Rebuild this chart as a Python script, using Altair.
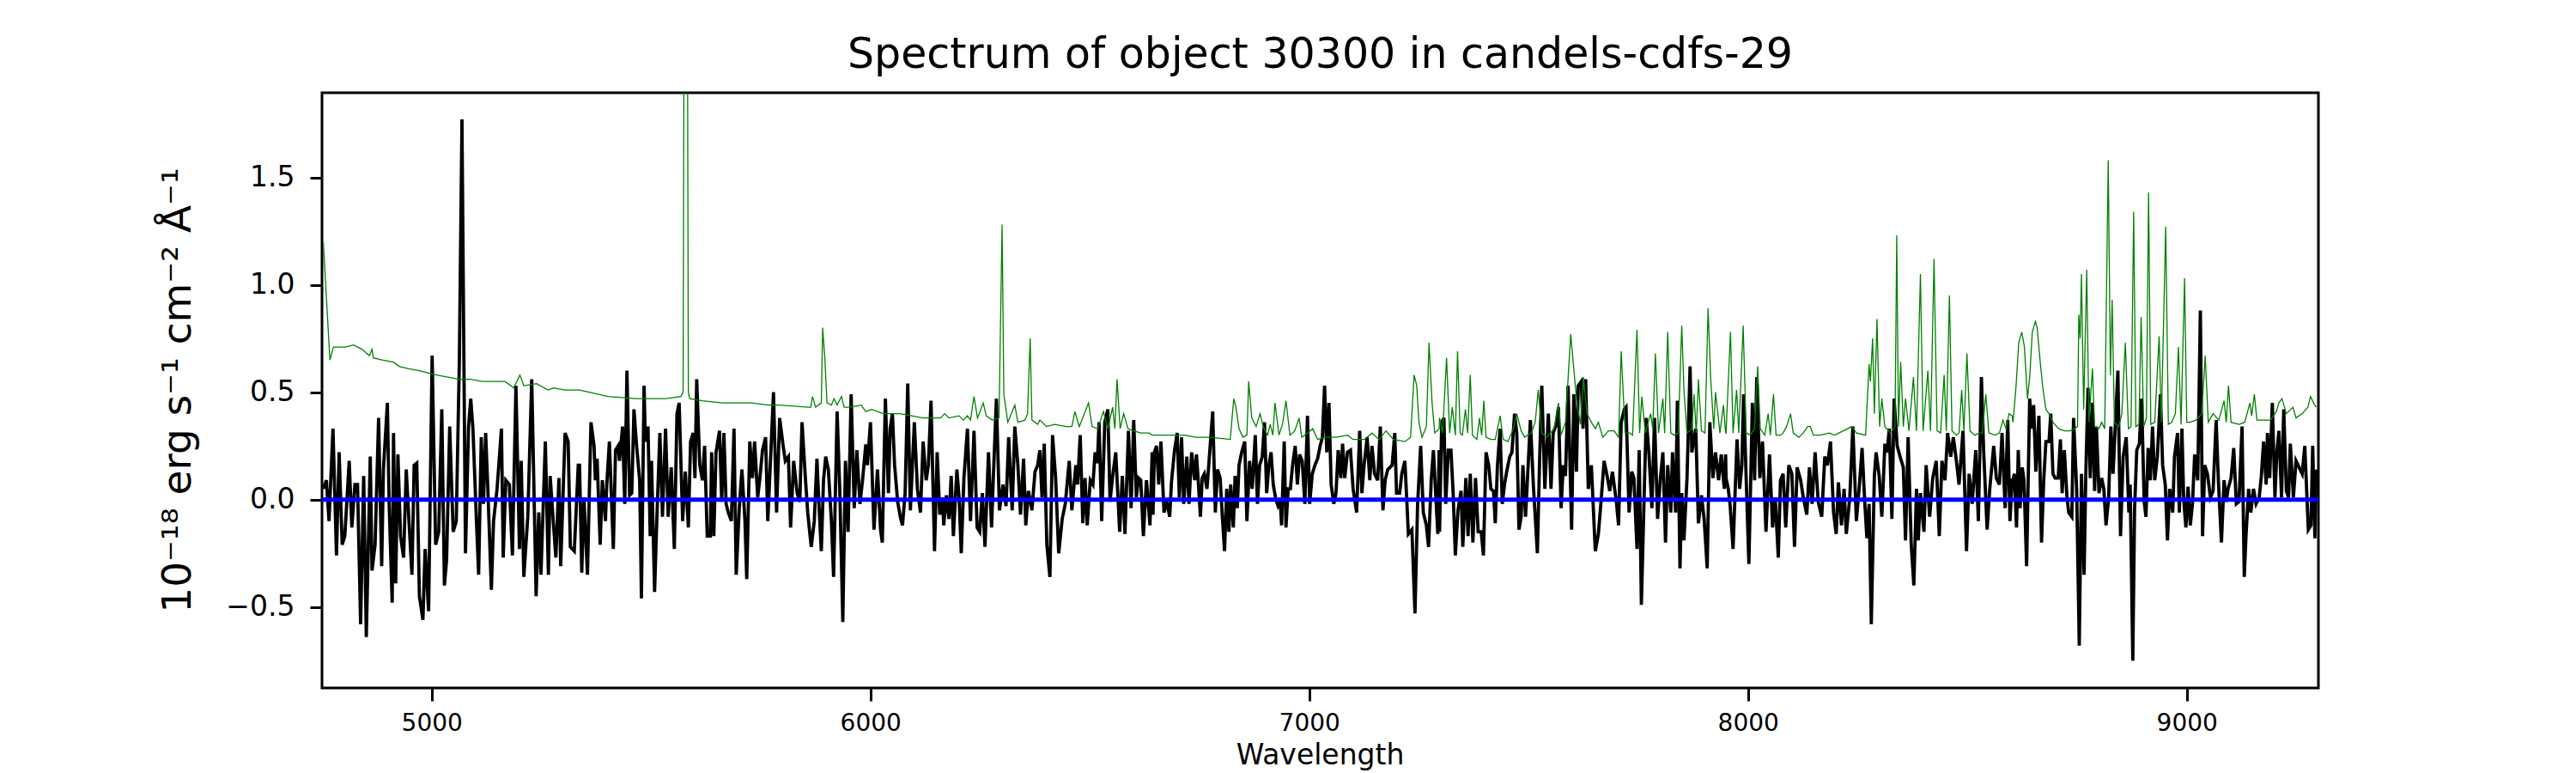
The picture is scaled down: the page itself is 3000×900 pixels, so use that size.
import altair as alt
import pandas as pd

# ---- observed flux (black) ----
flux_wave = [
    4753,4760,4766,4775,4783,4789,4796,4802,4812,4818,4825,4831,4838,4845,4851,4860,4864,4871,4879,4886,
    4890,4899,4903,4910,4913,4918,4923,4929,4936,4942,4949,4955,4960,4966,4972,4980,4985,4993,5001,5009,
    5016,5023,5029,5034,5041,5049,5056,5063,5069,5077,5084,5089,5094,5102,5107,5113,5118,5123,5128,5136,
    5141,5149,5159,5163,5169,5177,5184,5192,5200,5204,5210,5219,5228,5238,5244,5249,5259,5266,5270,5277,
    5283,5290,5294,5304,5311,5316,5325,5334,
    5337,5342,5347,5355,5363,5370,5373,5377,5384,5389,5396,5399,5405,5410,5414,5419,5425,5428,5435,5440,
    5445,5451,5456,5461,5467,5474,5478,5484,5487,5493,5498,5501,5508,5513,5520,5526,5533,5539,5546,5553,
    5559,5564,5572,5578,5585,5590,5596,5600,5604,5611,5617,5622,5628,5635,5638,5643,5648,5656,5661,5666,
    5671,5676,5683,5689,5694,5701,5707,5714,5718,5725,5731,5736,5743,5748,5754,5761,5766,5773,5779,5786,
    5793,5801,5806,5813,5818,5825,5833,5839,5844,5852,5857,5865,5872,5878,5883,5888,5893,5898,5904,5911,
    5916,5924,5930,5937,5943,5949,5956,5963,5969,5976,5982,5989,
    5990,5993,6000,6008,6016,6023,6027,6034,6041,6045,6050,6055,6062,6068,6073,6079,6085,6091,6100,6107,
    6114,6120,6127,6132,6138,6146,6152,6158,6164,6167,6173,6179,6184,6189,6197,6202,6207,6213,6221,6228,
    6236,6243,6249,6255,6261,6269,6276,6280,6287,6294,6302,6309,6315,6323,6329,6336,6342,6349,6354,6360,
    6368,6375,6381,6386,6391,6396,6402,6409,6415,6422,6429,6437,6444,6453,6459,6468,6472,6478,6484,6489,
    6494,6501,6507,6512,6517,6521,6527,6534,6541,6546,6552,6559,6568,6574,6580,6588,6594,6600,6606,6611,
    6616,6622,6629,6637,6642,
    6644,6647,6652,6657,6662,6669,6675,6682,6686,6693,6699,6704,6709,6714,6721,6726,6732,6739,6743,6747,
    6752,6756,6761,6767,6771,6780,6786,6791,6797,6802,6807,6812,6817,6821,6827,6831,6836,6840,6846,6853,
    6858,6864,6870,6877,6882,6887,6893,6898,6903,6908,6913,6918,6924,6929,6934,6937,6943,6947,6952,6957,
    6962,6968,6973,6978,6984,6990,6996,7001,7007,7013,7019,7025,7030,7035,7040,7045,7050,7056,7061,7066,
    7072,7076,7081,7087,7094,7100,7108,7115,7120,7125,7132,7138,7143,7149,7156,7162,7168,7173,7179,7184,
    7189,7195,7199,7206,7211,7218,7226,7234,7241,7247,7254,7260,7267,7272,7278,7283,7293,7296,
    7297,7302,7307,7311,7317,7323,7328,7333,7339,7346,7350,7357,7362,7367,7373,7379,7385,7392,7397,7403,
    7409,7414,7420,7424,7429,7435,7440,7445,7450,7457,7462,7468,7473,7478,7483,7487,7493,7499,7504,7511,
    7520,7525,7530,7537,7545,7551,7556,7563,7568,7574,7579,7584,7590,7598,7603,7609,7613,7620,7624,7630,
    7636,7643,7652,7659,7665,7672,7678,7685,7691,7700,7705,7711,7718,7722,7729,7735,7740,7747,7752,7757,
    7763,7768,7774,7781,7787,7794,7800,7806,7812,7817,7824,7828,7835,7839,7845,7849,7854,7861,7868,7872,
    7881,7887,7894,7900,7907,7913,7920,7926,7933,7939,7946,7949,
    7950,7955,7959,7966,7975,7981,7986,7990,7996,8002,8010,8015,8020,8027,8033,8041,8049,8056,8062,8069,
    8074,8080,8086,8093,8100,8106,8112,8120,8126,8134,8140,8146,8153,8160,8168,8175,8181,8188,8195,8201,
    8206,8213,8219,8224,8232,8239,8247,8254,8260,8266,8271,8276,8281,8288,8292,8299,8305,8312,8317,8322,
    8328,8333,8340,8348,8354,8359,8365,8372,8378,8384,8388,8393,8401,8406,8414,8421,8429,8436,8442,8449,
    8455,8462,8468,8475,8481,8490,8498,8504,8511,8519,8525,8532,8537,8545,8551,8560,8566,8573,8579,8586,
    8592,8597,8602,
    8604,8607,8612,8616,8620,8625,8629,8635,8642,8646,8651,8656,8663,8669,8674,8679,8686,8690,8695,8700,
    8707,8712,8716,8721,8727,8731,8738,8742,8749,8755,8760,8766,8770,8775,8780,8785,8790,8794,8800,8806,
    8811,8816,8822,8827,8832,8837,8843,8849,8855,8862,8868,8871,8877,8881,8886,8892,8897,8903,8907,8912,
    8917,8922,8927,8933,8940,8945,8951,8956,8961,8968,8972,8979,8983,8989,8993,8998,9003,9008,9013,9018,
    9025,9031,9036,9041,9047,9054,9060,9067,9072,9079,9085,9090,9094,9101,9107,9113,9119,9126,9131,9135,
    9141,9146,9152,9158,9165,9170,9175,9181,9184,9189,9195,9201,9205,9210,9216,9221,9227,9232,9236,9243,
    9249,9256,9263,9269,9277,9283,9287,9292,9295,
]
flux_value = [
    0.05,0.09,-0.10,0.33,-0.26,0.22,-0.21,-0.17,0.18,-0.13,0.07,0.07,-0.58,0.11,-0.64,0.20,-0.33,-0.21,0.38,-0.31,
    0.14,0.45,-0.02,-0.48,0.31,-0.39,0.21,-0.17,-0.27,0.14,-0.13,-0.35,0.16,0.17,-0.45,-0.56,-0.23,-0.52,0.67,-0.21,
    -0.15,0.42,-0.40,-0.28,0.34,-0.15,-0.10,0.64,1.77,-0.25,0.34,0.47,0.33,-0.10,-0.35,0.29,-0.02,0.31,0.05,-0.42,
    -0.10,0.05,0.33,-0.27,0.09,0.07,-0.26,0.53,-0.23,0.18,-0.36,-0.08,0.56,-0.45,-0.06,-0.35,0.27,-0.35,0.11,-0.10,
    -0.27,0.10,-0.31,0.31,0.27,-0.22,-0.24,0.16,
    0.16,-0.34,0.01,-0.35,0.36,0.25,0.09,0.19,-0.21,0.09,-0.10,0.07,0.27,-0.01,-0.23,0.23,0.25,0.18,0.34,-0.02,
    0.60,0.02,0.03,0.42,0.25,0.09,-0.46,0.53,0.27,0.34,-0.17,0.18,-0.43,-0.10,0.31,-0.08,0.33,-0.08,0.15,-0.23,
    0.40,0.45,-0.10,0.13,-0.13,0.27,0.31,0.10,0.56,0.16,0.09,0.25,-0.17,-0.17,0.22,-0.17,0.22,0.32,-0.01,0.31,
    -0.02,-0.06,-0.10,0.33,-0.35,-0.04,0.14,-0.10,-0.37,0.27,0.10,0.27,0.01,0.10,0.23,0.29,-0.10,0.22,0.50,-0.06,
    0.38,0.25,0.18,0.20,-0.13,0.18,0.03,-0.01,0.36,0.09,-0.06,-0.22,-0.10,0.19,-0.04,-0.24,0.09,0.20,0.14,-0.10,
    -0.36,0.41,0.05,-0.57,0.18,-0.15,0.49,-0.04,0.23,-0.02,0.09,0.25,
    0.25,0.16,0.36,-0.14,0.14,-0.14,-0.20,0.47,0.03,0.33,0.40,0.16,-0.01,-0.08,-0.12,0.03,0.54,-0.05,0.36,0.05,
    -0.06,0.27,0.09,0.16,0.46,-0.24,0.22,-0.07,0.01,-0.12,0.02,-0.09,0.11,-0.17,0.14,0.01,-0.25,0.10,0.33,-0.10,
    0.32,-0.13,-0.15,0.03,-0.22,0.22,-0.13,0.10,0.47,-0.05,0.07,-0.03,0.29,-0.05,0.34,0.16,-0.07,0.19,-0.12,0.04,
    -0.05,0.13,0.16,0.23,0.01,0.26,-0.21,-0.36,0.30,0.10,-0.25,-0.09,-0.02,0.18,-0.05,0.16,0.07,0.30,-0.11,0.10,
    -0.12,0.09,0.07,0.22,0.17,0.36,-0.10,0.36,0.42,-0.01,0.11,0.22,-0.15,0.11,-0.16,0.32,-0.04,0.37,0.01,0.10,
    0.09,-0.17,0.09,-0.12,0.22,
    -0.07,0.22,0.25,0.07,0.27,-0.06,-0.01,-0.08,0.08,0.23,0.31,0.01,0.29,-0.02,0.20,-0.02,0.22,0.09,0.21,0.09,
    -0.08,0.10,0.12,0.05,0.16,0.41,-0.06,0.14,0.10,-0.08,-0.24,0.05,-0.15,0.07,-0.13,0.11,-0.04,0.16,0.22,0.27,
    -0.10,0.18,0.05,0.30,-0.02,0.16,0.20,0.36,0.03,0.16,0.22,0.07,0.00,-0.03,-0.01,-0.12,0.27,-0.13,0.05,0.05,
    0.16,0.25,0.07,0.21,0.18,-0.02,0.39,-0.02,0.12,0.16,0.19,0.25,0.29,0.53,0.22,0.45,0.07,-0.02,0.03,0.23,
    0.10,0.26,0.10,0.22,0.23,0.05,-0.06,0.32,0.03,0.16,0.29,0.09,0.25,0.12,0.09,0.34,-0.05,0.09,0.14,0.15,
    0.16,0.31,0.03,0.03,0.12,0.18,-0.16,-0.14,-0.53,-0.02,0.25,-0.06,-0.12,-0.22,0.09,0.23,-0.16,0.23,
    -0.15,0.36,0.38,-0.02,0.23,0.23,0.03,-0.26,-0.05,0.04,-0.22,0.10,-0.17,0.12,-0.20,0.10,-0.15,-0.15,-0.26,0.22,
    0.16,0.05,0.04,-0.11,0.16,0.33,-0.02,0.07,0.13,0.20,0.22,0.40,0.31,-0.14,-0.08,0.16,-0.08,0.16,0.37,0.06,
    -0.25,0.18,0.53,0.05,0.40,0.05,0.31,0.35,0.43,-0.04,0.16,0.11,0.53,-0.14,0.49,0.13,0.53,0.55,0.33,0.56,
    0.05,0.16,-0.24,-0.16,-0.01,0.18,0.12,0.04,0.13,-0.01,-0.12,0.36,0.42,0.43,-0.06,0.13,0.10,-0.23,0.23,-0.49,
    -0.01,0.38,0.22,-0.04,0.38,-0.09,0.09,0.22,-0.20,0.16,-0.06,0.22,-0.06,0.46,-0.32,0.03,-0.19,0.10,0.62,0.22,
    0.33,-0.11,0.02,-0.09,-0.32,0.36,0.10,0.22,0.09,0.21,0.05,0.21,
    0.10,0.05,-0.02,-0.23,0.28,0.05,0.16,0.49,0.09,-0.30,0.45,0.09,0.57,0.10,0.27,-0.15,0.21,-0.13,0.01,-0.27,
    0.09,0.12,-0.13,0.16,0.12,-0.22,0.15,0.09,0.01,-0.07,0.15,-0.02,0.22,-0.01,-0.08,0.20,0.16,0.27,-0.06,-0.16,
    0.08,-0.12,0.05,-0.16,0.01,0.34,-0.10,0.07,0.24,-0.01,-0.18,-0.02,-0.58,0.11,0.22,0.11,-0.08,0.26,0.22,0.33,
    -0.09,0.47,0.25,0.19,0.15,-0.19,0.29,-0.21,-0.40,0.05,-0.19,0.03,-0.15,0.16,-0.08,0.10,0.18,-0.17,0.18,0.09,
    0.31,0.20,0.29,0.18,0.07,0.32,-0.24,0.12,-0.02,0.23,-0.10,0.57,0.23,-0.14,0.05,0.25,0.10,0.07,0.31,-0.04,
    0.37,-0.10,0.09,
    0.09,0.12,-0.13,0.23,-0.04,0.15,0.09,-0.31,0.47,0.33,0.44,0.13,0.39,-0.20,0.09,0.27,0.27,0.40,0.12,0.10,
    0.10,0.28,0.03,0.23,0.01,-0.06,-0.08,0.38,0.05,-0.68,0.12,-0.35,0.13,0.52,0.10,0.45,0.04,0.34,0.03,0.10,
    0.05,-0.12,0.01,0.34,0.12,0.34,0.60,-0.17,0.20,0.29,-0.06,0.07,-0.75,-0.05,0.23,0.26,0.47,-0.01,-0.08,0.24,
    0.09,0.34,0.09,0.20,0.49,0.16,0.07,-0.19,0.05,-0.06,0.20,0.31,-0.06,0.33,0.00,-0.13,0.06,-0.12,-0.02,0.21,
    0.09,0.88,-0.17,0.16,0.12,0.01,0.04,0.37,0.09,-0.20,0.09,-0.01,0.05,0.10,0.24,-0.02,-0.01,0.34,-0.36,-0.17,
    0.05,-0.06,0.05,-0.02,0.01,0.11,0.27,0.07,0.31,0.10,0.45,0.01,0.21,0.32,0.01,0.42,0.04,0.01,0.26,0.01,
    0.18,0.15,0.12,0.25,-0.14,-0.12,0.25,-0.18,0.14,
]

# ---- noise / error spectrum (green) ----
err_wave = [
    4753,4768,4776,4802,4822,4841,4858,4864,4867,4887,4913,4926,4946,4972,4991,5011,5037,5063,5089,5115,
    5141,5167,5187,5201,5210,5239,5265,5278,5304,5334,
    5337,5402,5467,5533,5568,5573,5576,5582,5585,5588,5617,5663,5728,5767,5793,5859,5864,5868,5875,5888,
    5891,5896,5901,5911,5917,5924,5934,5940,5953,5979,5989,
    5990,6003,6029,6068,6120,6160,6169,6179,6202,6212,6221,6228,6236,6244,6257,6264,6277,6293,6300,6304,
    6313,6329,6336,6352,6358,6364,6368,6381,6386,6401,6420,6446,6459,6466,6476,6497,6505,6518,6531,6541,
    6552,6557,6562,6569,6577,6587,6600,6616,6635,6642,
    6644,6670,6696,6716,6742,6774,6820,6828,6833,6840,6849,6858,6862,6869,6879,6888,6895,6905,6911,6917,
    6922,6931,6939,6947,6956,6967,6977,6983,6996,7008,7019,7035,7061,7087,7100,7126,7143,7159,7175,7192,
    7218,7231,7239,7245,7250,7257,7267,7273,7280,7286,7296,
    7297,7304,7313,7320,7326,7333,7338,7344,7349,7356,7361,7367,7372,7382,7388,7393,7398,7403,7414,7424,
    7435,7442,7453,7465,7473,7483,7491,7506,7515,7522,7530,7541,7558,7568,7574,7584,7596,7602,7610,7618,
    7625,7633,7643,7652,7659,7669,7682,7695,7705,7711,7720,7731,7737,7747,7753,7758,7766,7778,7783,7789,
    7796,7806,7810,7817,7824,7832,7841,7849,7854,7861,7872,7877,7882,7887,7894,7902,7909,7915,7922,7926,
    7936,7944,7949,
    7950,7960,7966,7974,7979,7989,7996,8005,8015,8022,8028,8038,8046,8051,8058,8064,8074,8080,8088,8097,
    8103,8116,8126,8136,8142,8149,8165,8185,8198,8217,8237,8247,8268,8276,8279,8284,8288,8294,8300,8305,
    8312,8325,8335,8339,8343,8348,8354,8359,8367,8377,8384,8393,8399,8410,8416,8424,8431,8439,8447,8452,
    8459,8465,8475,8481,8487,8492,8499,8506,8517,8527,8534,8542,8549,8563,8573,8581,8588,8595,8602,
    8604,8611,8617,8624,8630,8637,8642,8648,8655,8659,8666,8672,8679,8686,8695,8708,8721,8734,8744,8751,
    8754,8757,8760,8765,8772,8777,8785,8790,8800,8806,8813,8821,8826,8830,8835,8845,8852,8860,8867,8873,
    8879,8884,8891,8896,8902,8908,8913,8918,8927,8937,8942,8952,8958,8966,8974,8981,8987,8995,9000,9008,
    9021,9034,9042,9049,9060,9073,9085,9090,9095,9101,9119,9132,9144,9148,9154,9160,9171,9191,9204,9210,
    9217,9227,9242,9249,9263,9276,9282,9289,9295,
]
err_value = [
    1.20,0.65,0.71,0.71,0.72,0.70,0.67,0.70,0.66,0.65,0.64,0.62,0.61,0.60,0.59,0.58,0.57,0.56,0.56,0.55,
    0.55,0.55,0.52,0.58,0.53,0.54,0.51,0.52,0.51,0.51,
    0.51,0.48,0.47,0.47,0.48,0.50,3.00,3.00,0.50,0.47,0.46,0.45,0.45,0.44,0.44,0.43,0.43,0.48,0.43,0.45,
    0.80,0.66,0.45,0.44,0.47,0.44,0.48,0.43,0.43,0.44,0.41,
    0.41,0.42,0.40,0.40,0.38,0.38,0.40,0.38,0.39,0.37,0.39,0.37,0.48,0.38,0.45,0.39,0.37,0.38,1.28,0.49,
    0.36,0.44,0.36,0.37,0.40,0.75,0.37,0.35,0.37,0.34,0.35,0.34,0.34,0.41,0.34,0.45,0.34,0.33,0.41,0.33,
    0.43,0.33,0.56,0.33,0.40,0.33,0.32,0.31,0.31,0.30,
    0.30,0.30,0.30,0.30,0.29,0.29,0.28,0.47,0.43,0.33,0.29,0.30,0.55,0.38,0.34,0.40,0.34,0.30,0.35,0.30,
    0.45,0.30,0.35,0.46,0.30,0.32,0.38,0.29,0.31,0.33,0.28,0.29,0.29,0.30,0.28,0.28,0.31,0.28,0.32,0.28,
    0.27,0.29,0.58,0.53,0.36,0.29,0.34,0.73,0.45,0.31,0.33,
    0.38,0.31,0.66,0.31,0.43,0.30,0.69,0.31,0.30,0.42,0.31,0.58,0.30,0.28,0.38,0.30,0.46,0.29,0.28,0.28,
    0.39,0.28,0.27,0.33,0.40,0.32,0.29,0.31,0.36,0.51,0.31,0.29,0.33,0.45,0.30,0.36,0.77,0.63,0.45,0.35,
    0.57,0.40,0.36,0.33,0.36,0.29,0.32,0.32,0.29,0.69,0.31,0.31,0.30,0.79,0.31,0.48,0.31,0.40,0.33,0.68,
    0.31,0.47,0.31,0.78,0.31,0.30,0.31,0.81,0.51,0.31,0.33,0.49,0.31,0.56,0.32,0.31,0.89,0.56,0.33,0.50,
    0.31,0.44,0.31,
    0.31,0.78,0.31,0.51,0.31,0.81,0.31,0.30,0.33,0.62,0.33,0.30,0.40,0.30,0.49,0.30,0.30,0.31,0.34,0.40,
    0.31,0.29,0.31,0.34,0.34,0.30,0.30,0.31,0.30,0.32,0.34,0.31,0.30,0.63,0.55,0.75,0.40,0.84,0.34,0.47,
    0.34,0.31,0.34,1.23,0.34,0.64,0.34,0.47,0.32,0.57,0.32,1.05,0.32,0.60,0.32,1.12,0.32,0.31,0.58,0.32,
    0.95,0.32,0.30,0.31,0.51,0.32,0.68,0.32,0.30,0.31,0.31,0.49,0.31,0.30,0.31,0.37,0.33,0.40,0.39,
    0.36,0.53,0.73,0.78,0.71,0.47,0.57,0.78,0.83,0.80,0.64,0.52,0.42,0.40,0.36,0.33,0.32,0.32,0.33,0.34,
    0.86,0.75,1.05,0.42,1.07,0.36,0.61,0.34,0.33,0.36,0.33,1.58,0.58,0.93,0.36,0.34,0.40,0.73,0.33,0.34,
    1.34,0.34,0.35,0.85,0.34,0.38,1.43,0.35,0.36,0.76,0.36,1.27,0.35,0.36,0.40,0.71,0.35,1.03,0.36,0.36,
    0.37,0.40,0.67,0.36,0.40,0.37,0.46,0.36,0.53,0.36,0.35,0.36,0.45,0.39,0.49,0.37,0.37,0.37,0.41,0.45,
    0.47,0.40,0.43,0.38,0.40,0.43,0.48,0.45,0.43,
]

# ---- model (blue) ----
model_wave = [4750, 9300]
model_value = [0.0, 0.0]

flux_df = pd.DataFrame({"wavelength": flux_wave, "value": flux_value})
err_df = pd.DataFrame({"wavelength": err_wave, "value": err_value})
model_df = pd.DataFrame({"wavelength": model_wave, "value": model_value})

FONT = "DejaVu Sans"

x_enc = alt.X(
    "wavelength:Q",
    scale=alt.Scale(domain=[4750, 9300], nice=False, zero=False),
    axis=alt.Axis(
        title="Wavelength",
        values=[5000, 6000, 7000, 8000, 9000],
        format="d",
        grid=False,
        domain=False,
        tickSize=15,
        tickWidth=3,
        tickColor="black",
        labelFont=FONT,
        labelFontSize=28,
        labelColor="black",
        labelPadding=12,
        titleFont=FONT,
        titleFontSize=33,
        titleFontWeight="normal",
        titleColor="black",
        titleX=1162,
        titleY=88,
        titleAlign="center",
        titleBaseline="alphabetic",
    ),
)
y_enc = alt.Y(
    "value:Q",
    scale=alt.Scale(domain=[-0.877, 1.894], nice=False, zero=False),
    axis=alt.Axis(
        title="10⁻¹⁸ erg s⁻¹ cm⁻² Å⁻¹",
        values=[-0.5, 0.0, 0.5, 1.0, 1.5],
        format=".1f",
        grid=False,
        domain=False,
        tickSize=14,
        tickWidth=3,
        tickColor="black",
        labelFont=FONT,
        labelFontSize=33,
        labelColor="black",
        labelPadding=18,
        titleFont=FONT,
        titleFontSize=47,
        titleFontWeight="normal",
        titleColor="black",
        titleAngle=270,
        titleX=-168,
        titleY=346,
        titleAlign="center",
        titleBaseline="middle",
    ),
)

flux_line = alt.Chart(flux_df).mark_line(color="black", strokeWidth=3.8, clip=True).encode(x=x_enc, y=y_enc)
err_line = alt.Chart(err_df).mark_line(color="#008000", strokeWidth=1.3, clip=True).encode(x=x_enc, y=y_enc)
model_line = alt.Chart(model_df).mark_line(color="#0000ff", strokeWidth=5, clip=True).encode(x=x_enc, y=y_enc)

chart = (
    alt.layer(flux_line, err_line, model_line)
    .properties(
        width=2325,
        height=693,
        title=alt.TitleParams(
            text="Spectrum of object 30300 in candels-cdfs-29",
            font=FONT,
            fontSize=49,
            fontWeight="normal",
            color="black",
            anchor="middle",
            baseline="alphabetic",
            offset=-20,
        ),
        autosize=alt.AutoSizeParams(type="none"),
        padding={"left": 367, "top": 100, "right": 290, "bottom": 99},
    )
    .configure_view(stroke="black", strokeWidth=3)
)

chart.save("out.html", embed_options={"renderer": "svg", "actions": False})
